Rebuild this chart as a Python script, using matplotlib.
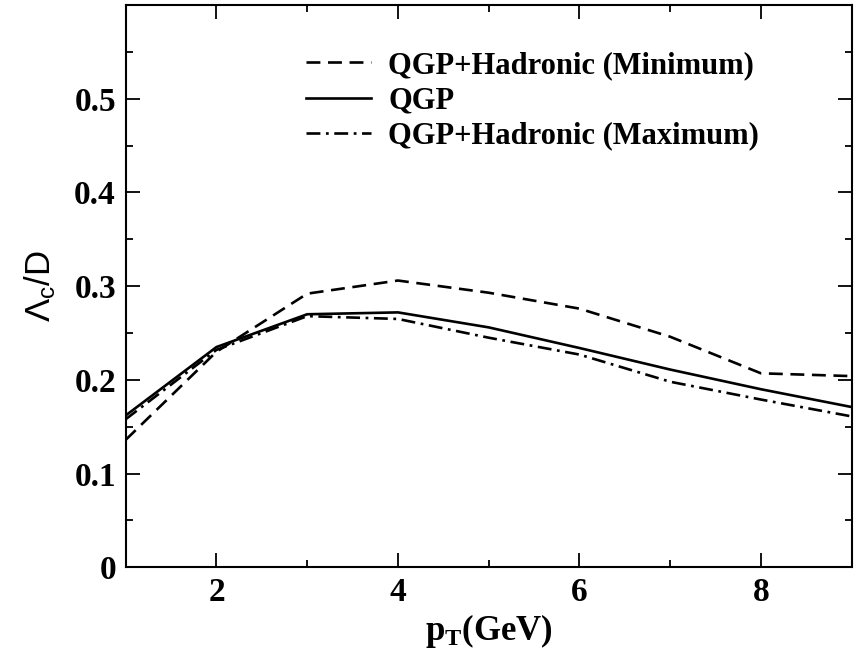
import matplotlib
matplotlib.use("Agg")
import matplotlib.pyplot as plt
from matplotlib.ticker import MultipleLocator

pt = [1, 2, 3, 4, 5, 6, 7, 8, 9]
qgp_min = [0.136, 0.230, 0.292, 0.306, 0.293, 0.276, 0.246, 0.207, 0.204]
qgp = [0.162, 0.235, 0.270, 0.272, 0.256, 0.234, 0.211, 0.190, 0.171]
qgp_max = [0.158, 0.232, 0.268, 0.265, 0.245, 0.227, 0.198, 0.179, 0.161]

labels = ["QGP+Hadronic (Minimum)", "QGP", "QGP+Hadronic (Maximum)"]

plt.rcParams['lines.scale_dashes'] = False
plt.rcParams['mathtext.fontset'] = 'custom'
plt.rcParams['mathtext.rm'] = 'Liberation Serif:bold'
plt.rcParams['mathtext.it'] = 'Liberation Serif:bold'
plt.rcParams['mathtext.bf'] = 'Liberation Serif:bold'
plt.rcParams['mathtext.sf'] = 'Liberation Sans'

fig = plt.figure(figsize=(8.56, 6.5), dpi=100)
ax = fig.add_axes([125.7/856, 1-567.3/650, (851.7-125.7)/856, (567.3-5)/650])

lw = 1.9
ax.plot(pt, qgp_min, color='black', lw=lw, dashes=(10, 5.5), label=labels[0])
ax.plot(pt, qgp, color='black', lw=lw, label=labels[1])
ax.plot(pt, qgp_max, color='black', lw=lw, dashes=(10, 4, 2, 4), label=labels[2])

ax.set_xlim(1, 9)
ax.set_ylim(0, 0.6)
ax.xaxis.set_major_locator(MultipleLocator(2))
ax.xaxis.set_minor_locator(MultipleLocator(1))
ax.yaxis.set_major_locator(MultipleLocator(0.1))
ax.yaxis.set_minor_locator(MultipleLocator(0.05))
ax.tick_params(which='both', direction='in', top=True, right=True, width=1.3)
ax.tick_params(which='major', length=10, pad=7)
ax.tick_params(which='minor', length=5)
for s in ax.spines.values():
    s.set_linewidth(1.5)

ax.set_xticks([2, 4, 6, 8])
ax.set_yticks([0, 0.1, 0.2, 0.3, 0.4, 0.5])
ax.set_yticklabels(['0', '0.1', '0.2', '0.3', '0.4', '0.5'])
for lab in ax.get_xticklabels() + ax.get_yticklabels():
    lab.set_fontfamily('Liberation Serif')
    lab.set_fontweight('bold')
    lab.set_fontsize(24)

ax.set_xlabel(r'$\mathrm{p_T}$(GeV)', fontfamily='Liberation Serif', fontweight='bold', fontsize=25, labelpad=3)
ax.set_ylabel(r'$\mathsf{\Lambda_c/D}$', fontsize=25, labelpad=12)

leg = ax.legend(loc='upper left', bbox_to_anchor=(0.248, 0.918), frameon=False,
                prop={'family': 'Liberation Serif', 'weight': 'bold', 'size': 22},
                handlelength=2.15, handletextpad=0.55, labelspacing=0.2, borderaxespad=0,
                borderpad=0)

fig.savefig('out.png', dpi=100)
